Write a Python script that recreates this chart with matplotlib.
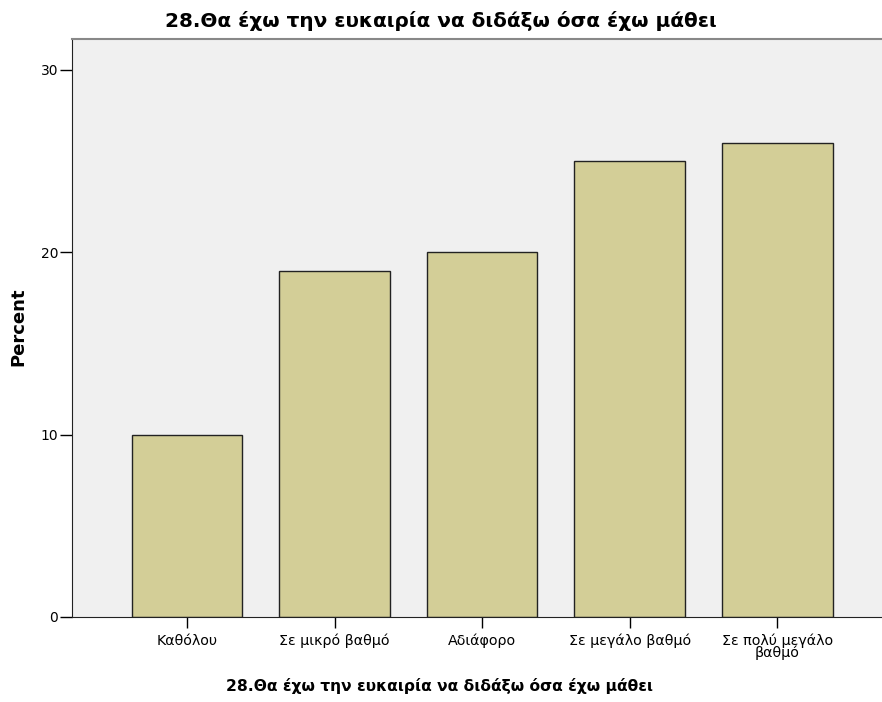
import matplotlib
matplotlib.use('Agg')
import matplotlib.pyplot as plt

categories = ['Καθόλου', 'Σε μικρό βαθμό', 'Αδιάφορο', 'Σε μεγάλο βαθμό', 'Σε πολύ μεγάλο\nβαθμό']
percent = [10, 19, 20, 25, 26]
yticks = [0, 10, 20, 30]
title = '28.Θα έχω την ευκαιρία να διδάξω όσα έχω μάθει'

plt.rcParams['font.family'] = ['DejaVu Sans']

W, H = 882, 702
fig = plt.figure(figsize=(W / 100, H / 100), dpi=100)
fig.patch.set_facecolor('white')
ax = fig.add_axes([72 / W, (H - 617) / H, (W - 72) / W, (617 - 39) / H])
ax.set_facecolor('#f0f0f0')

x = list(range(len(categories)))
ax.bar(x, percent, width=0.75, color='#d3ce97', edgecolor='#222222', linewidth=1.0, zorder=2)

ax.set_xlim(-0.78, 4.71)
ax.set_ylim(0, 31.7)
ax.set_yticks(yticks)
ax.set_xticks(x)
ax.set_xticklabels(categories, fontsize=10.3, linespacing=0.8)
ax.tick_params(axis='y', direction='out', length=9, width=1, labelsize=10, pad=1)
ax.tick_params(axis='x', direction='out', length=8, width=1, pad=4)

ax.spines['left'].set_color('#222222')
ax.spines['bottom'].set_color('#222222')
ax.spines['top'].set_color('#888888')
ax.spines['top'].set_linewidth(1.5)
ax.spines['right'].set_visible(False)

fig.text(18 / W, 1 - 327 / H, 'Percent', rotation=90, ha='center', va='center',
         fontsize=13, fontweight='bold')
fig.text(441 / W, 1 - 21 / H, title, ha='center', va='center', fontsize=14.4, fontweight='bold')
fig.text(440 / W, 1 - 686 / H, title, ha='center', va='center', fontsize=11.2, fontweight='bold')

fig.savefig('out.png', dpi=100)
